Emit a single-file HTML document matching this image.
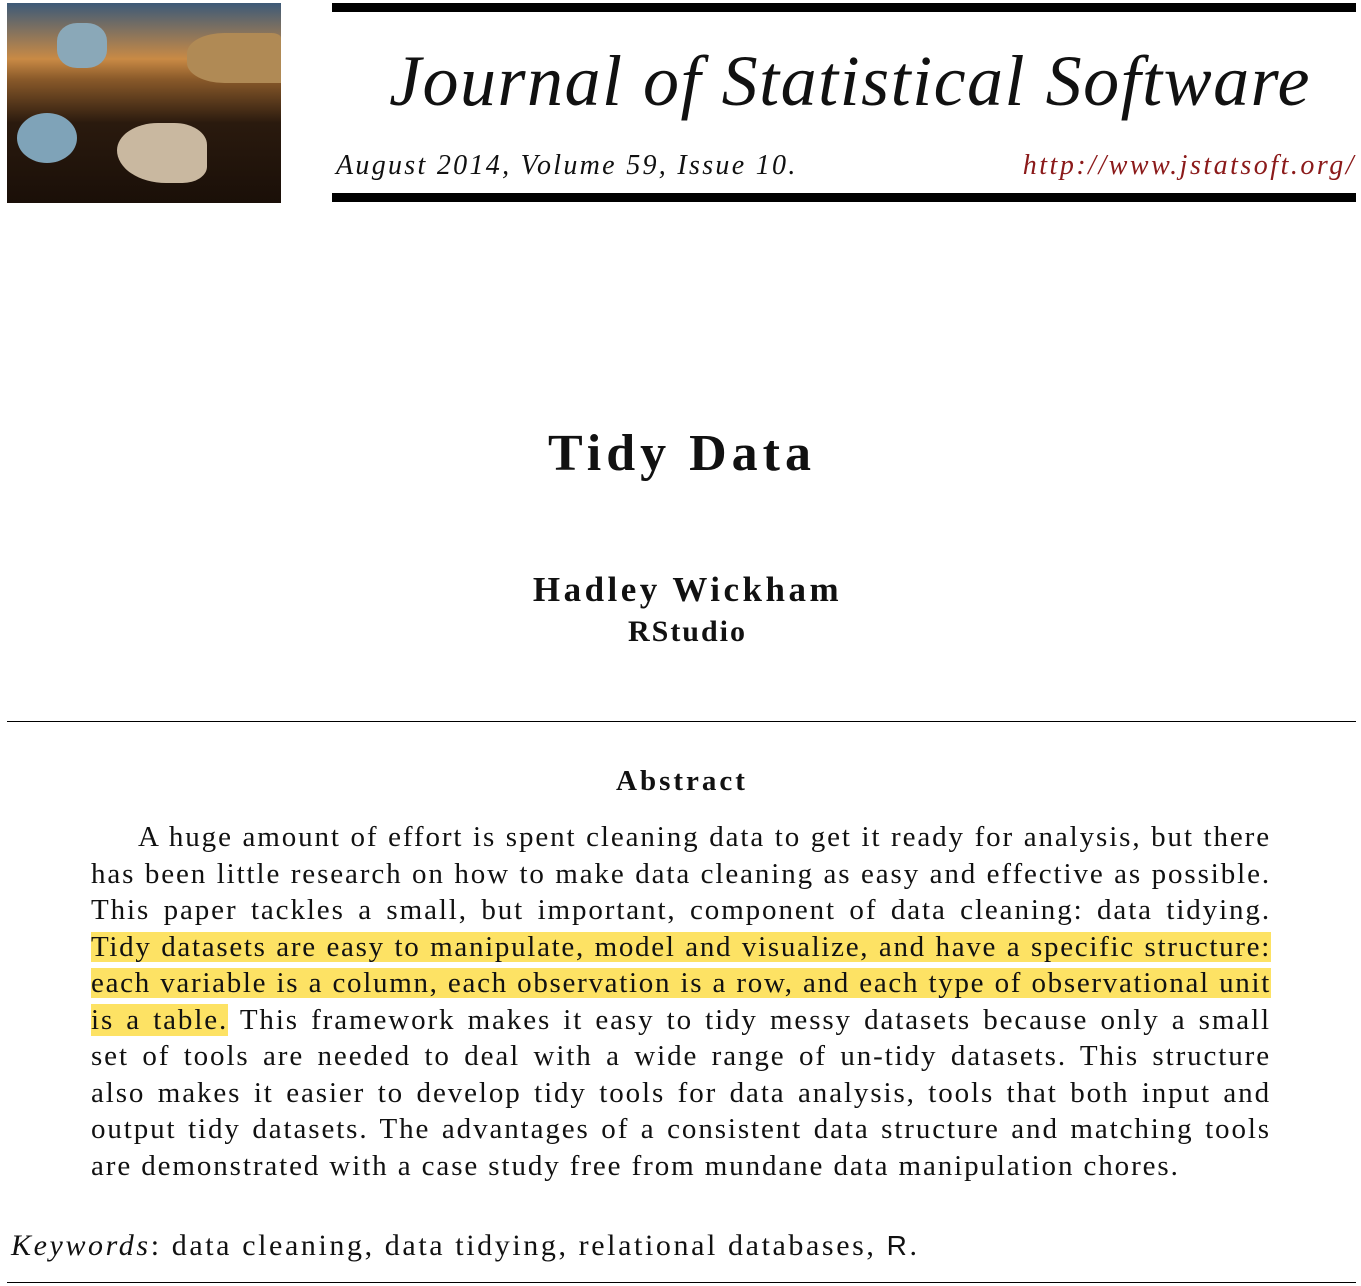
<!DOCTYPE html>
<html><head><meta charset="utf-8"><style>
body{margin:0;width:1361px;height:1286px;background:#fff;position:relative;overflow:hidden;font-family:"Liberation Serif",serif;color:#111}
.abs{position:absolute}
.bar{position:absolute;left:332px;width:1024px;height:9px;background:#000}
.ln{position:absolute;left:91px;width:1180px;font-size:29px;letter-spacing:1.9px;text-align:justify;text-align-last:justify;white-space:nowrap;line-height:30px}
.ln.last{text-align-last:left}
.hl{background:#fde264}
</style></head><body>
<div class="abs" style="left:7px;top:3px;width:274px;height:200px;background:linear-gradient(180deg,#3d5a78 0%,#c98a45 28%,#8a5a2a 38%,#2a1a0e 60%,#1a0f08 100%);overflow:hidden">
 <div style="position:absolute;left:180px;top:30px;width:94px;height:50px;background:#b08a55;border-radius:40% 10% 0 40%"></div>
 <div style="position:absolute;left:10px;top:110px;width:60px;height:50px;background:#7fa3b8;border-radius:50%"></div>
 <div style="position:absolute;left:110px;top:120px;width:90px;height:60px;background:#c9b8a0;border-radius:50% 40% 30% 60%"></div>
 <div style="position:absolute;left:50px;top:20px;width:50px;height:45px;background:#8aa8b8;border-radius:40%"></div>
</div>
<div class="bar" style="top:3px"></div>
<div class="abs" style="left:380px;top:40px;width:940px;font-size:72px;font-style:italic;white-space:nowrap;letter-spacing:1.5px;text-align:center">Journal of Statistical Software</div>
<div class="abs" style="left:336px;top:150px;font-size:28px;font-style:italic;white-space:nowrap;letter-spacing:2.3px">August 2014, Volume 59, Issue 10.</div>
<div class="abs" style="left:1000px;top:150px;width:356px;font-size:28px;font-style:italic;color:#8b1a1a;white-space:nowrap;text-align:right;letter-spacing:2.5px">http://www.jstatsoft.org/</div>
<div class="bar" style="top:193px"></div>
<div class="abs" style="left:0;width:1364px;top:424px;text-align:center;font-size:52px;font-weight:bold;letter-spacing:5px">Tidy Data</div>
<div class="abs" style="left:0;width:1375px;top:570px;text-align:center;font-size:35px;font-weight:bold;letter-spacing:3.5px">Hadley Wickham</div>
<div class="abs" style="left:0;width:1375px;top:615px;text-align:center;font-size:30px;font-weight:bold;letter-spacing:2px">RStudio</div>
<div class="abs" style="left:7px;width:1349px;top:721px;height:1px;background:#000"></div>
<div class="abs" style="left:0;width:1364px;top:765px;text-align:center;font-size:29px;font-weight:bold;letter-spacing:3px">Abstract</div>
<div>
<div class="ln" style="top:822px;left:138px;width:1133px">A huge amount of effort is spent cleaning data to get it ready for analysis, but there</div>
<div class="ln" style="top:859px">has been little research on how to make data cleaning as easy and effective as possible.</div>
<div class="ln" style="top:895px">This paper tackles a small, but important, component of data cleaning: data tidying.</div>
<div class="ln hl" style="top:932px;letter-spacing:1.7px">Tidy datasets are easy to manipulate, model and visualize, and have a specific structure:</div>
<div class="ln hl" style="top:968px;letter-spacing:1.7px">each variable is a column, each observation is a row, and each type of observational unit</div>
<div class="ln" style="top:1005px"><span class="hl">is a table.</span> This framework makes it easy to tidy messy datasets because only a small</div>
<div class="ln" style="top:1041px">set of tools are needed to deal with a wide range of un-tidy datasets. This structure</div>
<div class="ln" style="top:1078px">also makes it easier to develop tidy tools for data analysis, tools that both input and</div>
<div class="ln" style="top:1114px">output tidy datasets. The advantages of a consistent data structure and matching tools</div>
<div class="ln last" style="top:1151px">are demonstrated with a case study free from mundane data manipulation chores.</div>
</div>
<div class="abs" style="left:11px;top:1229px;font-size:30px;letter-spacing:2.6px;white-space:nowrap"><i>Keywords</i>: data cleaning, data tidying, relational databases, <span style="font-family:'Liberation Sans',sans-serif;font-size:28px">R</span>.</div>
<div class="abs" style="left:7px;width:1349px;top:1282px;height:1px;background:#000"></div>
</body></html>
